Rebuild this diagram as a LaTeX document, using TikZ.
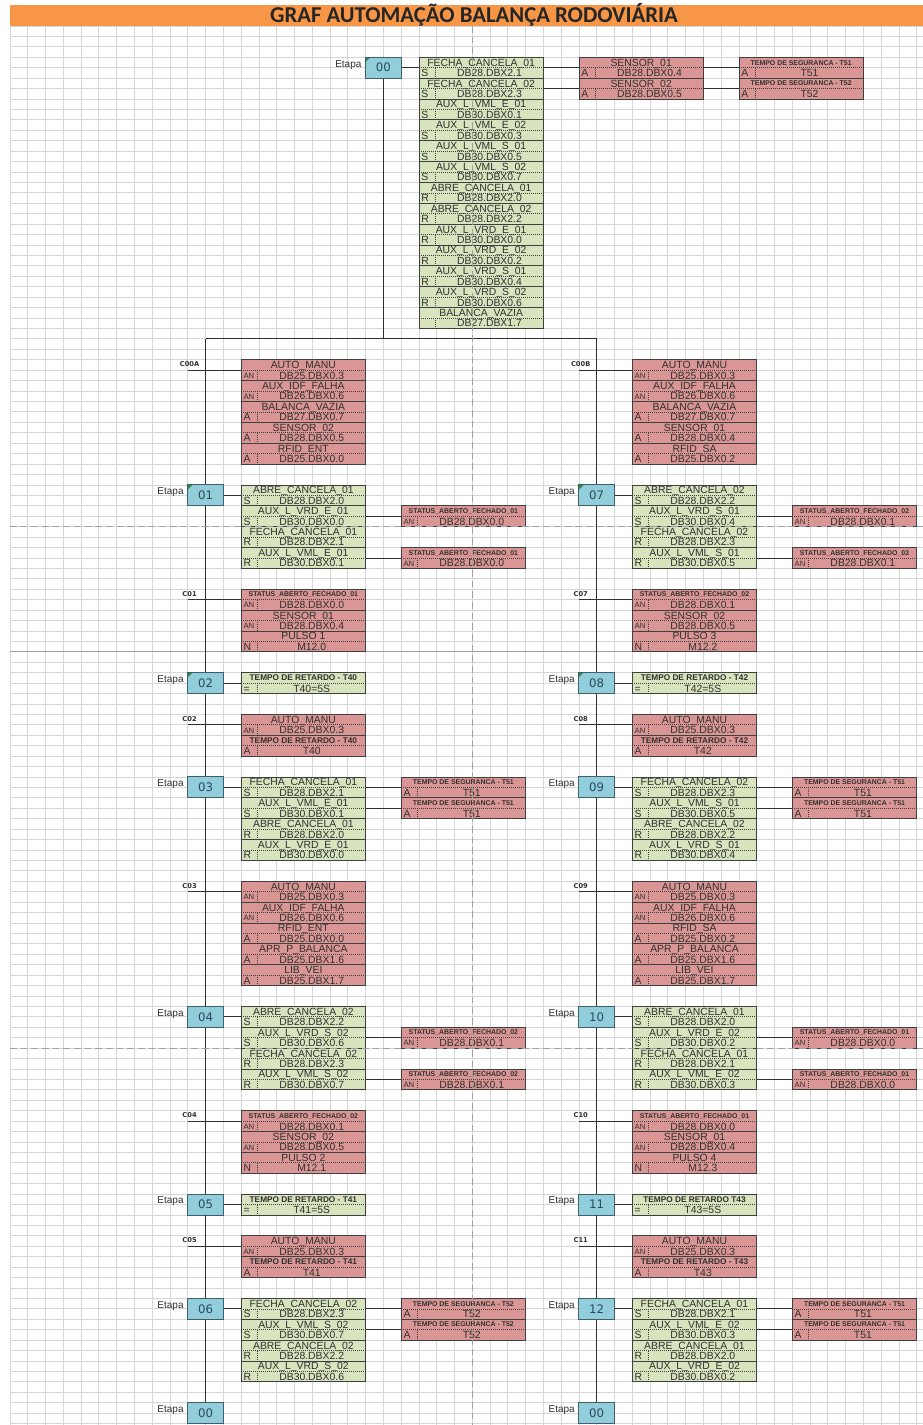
\documentclass[tikz,border=0pt]{standalone}
\usepackage{fontspec}
\setmainfont{Liberation Sans}
\newfontfamily\titlefont{Carlito}
\newfontfamily\stepfont{DejaVu Sans}
\usepackage{tikz}
\usetikzlibrary{calc}
\definecolor{hdr}{HTML}{F79646}
\definecolor{actbg}{HTML}{D7E4BD}
\definecolor{cndbg}{HTML}{DA9694}
\definecolor{stepbg}{HTML}{92CDDC}
\definecolor{stepfg}{HTML}{2B4A5C}
\definecolor{stepln}{HTML}{3F5F6F}
\definecolor{boxln}{HTML}{404040}
\definecolor{gridc}{HTML}{D6D6D6}
\definecolor{ink}{HTML}{303030}
\definecolor{brk}{HTML}{A0A0A0}
\definecolor{mkc}{HTML}{2E8B3E}

% entry: name, col, row, fill, title style, title, qualifier, address
\newcommand{\itm}[8]{%
  \node[itembox,#4] (#1) at ({#2+3.5},{#3+1}) {};
  \node[#5] at ({#2+3.5},{#3+0.5}) {#6};
  \draw[dotsep] (#1.west) -- (#1.east);
  \draw[dotsep] ({#2+0.93},{#3+1}) -- ({#2+0.93},{#3+2});
  \node[qual] at ({#2+0.12},{#3+1.5}) {#7};
  \node[txt] at ({#2+3.97},{#3+1.5}) {#8};
}
% column of entries: prefix, col, first row, fill, list
\newcommand{\stk}[5]{%
  \foreach \vs/\vt/\vq/\va [count=\k] in {#5}{%
    \itm{#1-\k}{#2}{#3+2*\k-2}{#4}{\vs}{\vt}{\vq}{\va}}%
}
% step: name, col, row, number, extra style
\newcommand{\etapa}[5]{%
  \node[stepbox,#5] (#1) at ({#2+1},{#3+1}) {#4};
  \node[etq] at ({#2-0.22},{#3+0.6}) {Etapa};
}
% transition: coordinate name, col, row, label
\newcommand{\trans}[4]{%
  \coordinate (#1) at (#2,{#3+1});
  \node[trl] at ({#2+0.1},{#3+0.45}) {#4};
}
\newcommand{\AN}{\raisebox{0.5pt}{\fontsize{5.8}{6}\selectfont AN}}

\begin{document}
\begin{tikzpicture}[
  x=13.335pt, y=-7.8225pt,
  itembox/.style={draw=boxln, line width=0.6pt, minimum width=93.345pt,
    minimum height=15.645pt, inner sep=0pt, outer sep=0pt},
  act/.style={fill=actbg},
  cnd/.style={fill=cndbg},
  tn/.style={inner sep=0pt, text=ink, font=\fontsize{7.8}{8}\selectfont,
    text height=5.6pt, text depth=0pt},
  tb/.style={tn, font=\fontsize{6.2}{7}\selectfont\bfseries, text height=4.45pt},
  ts/.style={tn, font=\fontsize{5.2}{6}\selectfont\bfseries, text height=3.75pt},
  qual/.style={tn, anchor=west},
  txt/.style={tn},
  dotsep/.style={draw=boxln, line width=0.5pt, dash pattern=on 0.6pt off 0.9pt},
  stepbox/.style={draw=stepln, fill=stepbg, line width=0.7pt, minimum width=26.67pt,
    minimum height=15.645pt, inner sep=0pt, text=stepfg,
    font=\stepfont\fontsize{8.8}{9}\selectfont},
  marked/.style={path picture={\fill[mkc] (path picture bounding box.north west)
    -- ++(3.5pt,0pt) -- ++(-3.5pt,-3.5pt) -- cycle;}},
  etq/.style={anchor=east, inner sep=0pt, text=ink, font=\fontsize{7.5}{8}\selectfont,
    text height=5.4pt, text depth=0pt},
  trl/.style={inner sep=0pt, text=ink, font=\stepfont\fontsize{5}{6}\selectfont\bfseries},
  wire/.style={draw=ink, line width=0.6pt},
  gridln/.style={draw=gridc, line width=0.6pt},
  brkln/.style={draw=brk, line width=0.6pt, dash pattern=on 5pt off 3pt},
  hdrtext/.style={inner sep=0pt, text=black!85, text height=11pt, text depth=0pt,
    font=\titlefont\bfseries\fontsize{17}{20}\selectfont}
]
\useasboundingbox (-0.5624,-2.493) rectangle (51.35,134.14);
\fill[white] (-0.5624,-2.493) rectangle (51.35,134.14);
\foreach \c in {0,...,51} \draw[gridln] (\c,0) -- (\c,134.14);
\foreach \r in {0,...,134} \draw[gridln] (0,\r) -- (51.35,\r);
\draw[draw=gray!75, line width=0.8pt] (0,60) -- (51.35,60);
\fill[hdr] (0,-2.01) rectangle (51.35,0);
\node[hdrtext] (ttl) at (26.1,-1.0) {GRAF AUTOMAÇÃO BALANÇA RODOVIÁRIA};

\etapa{s00}{20}{3}{00}{marked}
\stk{a00}{23}{3}{act}{tn/FECHA\_CANCELA\_01/S/DB28.DBX2.1,tn/FECHA\_CANCELA\_02/S/DB28.DBX2.3,
  tn/AUX\_L\_VML\_E\_01/S/DB30.DBX0.1,tn/AUX\_L\_VML\_E\_02/S/DB30.DBX0.3,
  tn/AUX\_L\_VML\_S\_01/S/DB30.DBX0.5,tn/AUX\_L\_VML\_S\_02/S/DB30.DBX0.7,
  tn/ABRE\_CANCELA\_01/R/DB28.DBX2.0,tn/ABRE\_CANCELA\_02/R/DB28.DBX2.2,
  tn/AUX\_L\_VRD\_E\_01/R/DB30.DBX0.0,tn/AUX\_L\_VRD\_E\_02/R/DB30.DBX0.2,
  tn/AUX\_L\_VRD\_S\_01/R/DB30.DBX0.4,tn/AUX\_L\_VRD\_S\_02/R/DB30.DBX0.6,
  tn/BALANCA\_VAZIA/{}/DB27.DBX1.7}
\stk{sn}{32}{3}{cnd}{tn/SENSOR\_01/A/DB28.DBX0.4,tn/SENSOR\_02/A/DB28.DBX0.5}
\stk{tp}{41}{3}{cnd}{ts/TEMPO DE SEGURANCA - T51/A/T51,ts/TEMPO DE SEGURANCA - T52/A/T52}

\trans{tA}{10}{32}{C00A}
\stk{k00a}{13}{32}{cnd}{tn/AUTO\_MANU/\AN/DB25.DBX0.3,tn/AUX\_IDF\_FALHA/\AN/DB26.DBX0.6,
  tn/BALANCA\_VAZIA/A/DB27.DBX0.7,tn/SENSOR\_02/A/DB28.DBX0.5,tn/RFID\_ENT/A/DB25.DBX0.0}
\etapa{s01}{10}{44}{01}{marked}
\stk{a01}{13}{44}{act}{tn/ABRE\_CANCELA\_01/S/DB28.DBX2.0,tn/AUX\_L\_VRD\_E\_01/S/DB30.DBX0.0,
  tn/FECHA\_CANCELA\_01/R/DB28.DBX2.1,tn/AUX\_L\_VML\_E\_01/R/DB30.DBX0.1}
\itm{b01-2}{22}{46}{cnd}{ts}{STATUS\_ABERTO\_FECHADO\_01}{\AN}{DB28.DBX0.0}
\itm{b01-4}{22}{50}{cnd}{ts}{STATUS\_ABERTO\_FECHADO\_01}{\AN}{DB28.DBX0.0}
\trans{t01}{10}{54}{C01}
\stk{k01}{13}{54}{cnd}{ts/STATUS\_ABERTO\_FECHADO\_01/\AN/DB28.DBX0.0,
  tn/SENSOR\_01/\AN/DB28.DBX0.4,tn/PULSO 1/N/M12.0}
\etapa{s02}{10}{62}{02}{marked}
\stk{a02}{13}{62}{act}{tb/TEMPO DE RETARDO - T40/=/T40=5S}
\trans{t02}{10}{66}{C02}
\stk{k02}{13}{66}{cnd}{tn/AUTO\_MANU/\AN/DB25.DBX0.3,tb/TEMPO DE RETARDO - T40/A/T40}
\etapa{s03}{10}{72}{03}{}
\stk{a03}{13}{72}{act}{tn/FECHA\_CANCELA\_01/S/DB28.DBX2.1,tn/AUX\_L\_VML\_E\_01/S/DB30.DBX0.1,
  tn/ABRE\_CANCELA\_01/R/DB28.DBX2.0,tn/AUX\_L\_VRD\_E\_01/R/DB30.DBX0.0}
\stk{b03}{22}{72}{cnd}{ts/TEMPO DE SEGURANCA - T51/A/T51,ts/TEMPO DE SEGURANCA - T51/A/T51}
\trans{t03}{10}{82}{C03}
\stk{k03}{13}{82}{cnd}{tn/AUTO\_MANU/\AN/DB25.DBX0.3,tn/AUX\_IDF\_FALHA/\AN/DB26.DBX0.6,
  tn/RFID\_ENT/A/DB25.DBX0.0,tn/APR\_P\_BALANCA/A/DB25.DBX1.6,tn/LIB\_VEI/A/DB25.DBX1.7}
\etapa{s04}{10}{94}{04}{}
\stk{a04}{13}{94}{act}{tn/ABRE\_CANCELA\_02/S/DB28.DBX2.2,tn/AUX\_L\_VRD\_S\_02/S/DB30.DBX0.6,
  tn/FECHA\_CANCELA\_02/R/DB28.DBX2.3,tn/AUX\_L\_VML\_S\_02/R/DB30.DBX0.7}
\itm{b04-2}{22}{96}{cnd}{ts}{STATUS\_ABERTO\_FECHADO\_02}{\AN}{DB28.DBX0.1}
\itm{b04-4}{22}{100}{cnd}{ts}{STATUS\_ABERTO\_FECHADO\_02}{\AN}{DB28.DBX0.1}
\trans{t04}{10}{104}{C04}
\stk{k04}{13}{104}{cnd}{ts/STATUS\_ABERTO\_FECHADO\_02/\AN/DB28.DBX0.1,
  tn/SENSOR\_02/\AN/DB28.DBX0.5,tn/PULSO 2/N/M12.1}
\etapa{s05}{10}{112}{05}{}
\stk{a05}{13}{112}{act}{tb/TEMPO DE RETARDO - T41/=/T41=5S}
\trans{t05}{10}{116}{C05}
\stk{k05}{13}{116}{cnd}{tn/AUTO\_MANU/\AN/DB25.DBX0.3,tb/TEMPO DE RETARDO - T41/A/T41}
\etapa{s06}{10}{122}{06}{}
\stk{a06}{13}{122}{act}{tn/FECHA\_CANCELA\_02/S/DB28.DBX2.3,tn/AUX\_L\_VML\_S\_02/S/DB30.DBX0.7,
  tn/ABRE\_CANCELA\_02/R/DB28.DBX2.2,tn/AUX\_L\_VRD\_S\_02/R/DB30.DBX0.6}
\stk{b06}{22}{122}{cnd}{ts/TEMPO DE SEGURANCA - T52/A/T52,ts/TEMPO DE SEGURANCA - T52/A/T52}
\etapa{e00a}{10}{132}{00}{}

\trans{tB}{32}{32}{C00B}
\stk{k00b}{35}{32}{cnd}{tn/AUTO\_MANU/\AN/DB25.DBX0.3,tn/AUX\_IDF\_FALHA/\AN/DB26.DBX0.6,
  tn/BALANCA\_VAZIA/A/DB27.DBX0.7,tn/SENSOR\_01/A/DB28.DBX0.4,tn/RFID\_SA/A/DB25.DBX0.2}
\etapa{s07}{32}{44}{07}{marked}
\stk{a07}{35}{44}{act}{tn/ABRE\_CANCELA\_02/S/DB28.DBX2.2,tn/AUX\_L\_VRD\_S\_01/S/DB30.DBX0.4,
  tn/FECHA\_CANCELA\_02/R/DB28.DBX2.3,tn/AUX\_L\_VML\_S\_01/R/DB30.DBX0.5}
\itm{b07-2}{44}{46}{cnd}{ts}{STATUS\_ABERTO\_FECHADO\_02}{\AN}{DB28.DBX0.1}
\itm{b07-4}{44}{50}{cnd}{ts}{STATUS\_ABERTO\_FECHADO\_02}{\AN}{DB28.DBX0.1}
\trans{t07}{32}{54}{C07}
\stk{k07}{35}{54}{cnd}{ts/STATUS\_ABERTO\_FECHADO\_02/\AN/DB28.DBX0.1,
  tn/SENSOR\_02/\AN/DB28.DBX0.5,tn/PULSO 3/N/M12.2}
\etapa{s08}{32}{62}{08}{marked}
\stk{a08}{35}{62}{act}{tb/TEMPO DE RETARDO - T42/=/T42=5S}
\trans{t08}{32}{66}{C08}
\stk{k08}{35}{66}{cnd}{tn/AUTO\_MANU/\AN/DB25.DBX0.3,tb/TEMPO DE RETARDO - T42/A/T42}
\etapa{s09}{32}{72}{09}{}
\stk{a09}{35}{72}{act}{tn/FECHA\_CANCELA\_02/S/DB28.DBX2.3,tn/AUX\_L\_VML\_S\_01/S/DB30.DBX0.5,
  tn/ABRE\_CANCELA\_02/R/DB28.DBX2.2,tn/AUX\_L\_VRD\_S\_01/R/DB30.DBX0.4}
\stk{b09}{44}{72}{cnd}{ts/TEMPO DE SEGURANCA - T51/A/T51,ts/TEMPO DE SEGURANCA - T51/A/T51}
\trans{t09}{32}{82}{C09}
\stk{k09}{35}{82}{cnd}{tn/AUTO\_MANU/\AN/DB25.DBX0.3,tn/AUX\_IDF\_FALHA/\AN/DB26.DBX0.6,
  tn/RFID\_SA/A/DB25.DBX0.2,tn/APR\_P\_BALANCA/A/DB25.DBX1.6,tn/LIB\_VEI/A/DB25.DBX1.7}
\etapa{s10}{32}{94}{10}{}
\stk{a10}{35}{94}{act}{tn/ABRE\_CANCELA\_01/S/DB28.DBX2.0,tn/AUX\_L\_VRD\_E\_02/S/DB30.DBX0.2,
  tn/FECHA\_CANCELA\_01/R/DB28.DBX2.1,tn/AUX\_L\_VML\_E\_02/R/DB30.DBX0.3}
\itm{b10-2}{44}{96}{cnd}{ts}{STATUS\_ABERTO\_FECHADO\_01}{\AN}{DB28.DBX0.0}
\itm{b10-4}{44}{100}{cnd}{ts}{STATUS\_ABERTO\_FECHADO\_01}{\AN}{DB28.DBX0.0}
\trans{t10}{32}{104}{C10}
\stk{k10}{35}{104}{cnd}{ts/STATUS\_ABERTO\_FECHADO\_01/\AN/DB28.DBX0.0,
  tn/SENSOR\_01/\AN/DB28.DBX0.4,tn/PULSO 4/N/M12.3}
\etapa{s11}{32}{112}{11}{}
\stk{a11}{35}{112}{act}{tb/TEMPO DE RETARDO T43/=/T43=5S}
\trans{t11}{32}{116}{C11}
\stk{k11}{35}{116}{cnd}{tn/AUTO\_MANU/\AN/DB25.DBX0.3,tb/TEMPO DE RETARDO - T43/A/T43}
\etapa{s12}{32}{122}{12}{}
\stk{a12}{35}{122}{act}{tn/FECHA\_CANCELA\_01/S/DB28.DBX2.1,tn/AUX\_L\_VML\_E\_02/S/DB30.DBX0.3,
  tn/ABRE\_CANCELA\_01/R/DB28.DBX2.0,tn/AUX\_L\_VRD\_E\_02/R/DB30.DBX0.2}
\stk{b12}{44}{122}{cnd}{ts/TEMPO DE SEGURANCA - T51/A/T51,ts/TEMPO DE SEGURANCA - T51/A/T51}
\etapa{e00b}{32}{132}{00}{}

\coordinate (dvL) at (11,30);
\coordinate (dvM) at (21,30);
\coordinate (dvR) at (33,30);
\draw[wire] (s00.south) -- (dvM);
\draw[wire] (dvL) -- (dvR);
\draw[wire] (dvL) -- (s01.north);
\draw[wire] (dvR) -- (s07.north);
\foreach \i in {1,2} {
  \draw[wire] (a00-\i.east) -- (sn-\i.west);
  \draw[wire] (sn-\i.east) -- (tp-\i.west);
}
\foreach \p/\n in {s01/s02,s02/s03,s03/s04,s04/s05,s05/s06,s06/e00a,
  s07/s08,s08/s09,s09/s10,s10/s11,s11/s12,s12/e00b}
  \draw[wire] (\p.south) -- (\n.north);
\foreach \s in {00,01,02,03,04,05,06,07,08,09,10,11,12}
  \draw[wire] (s\s.east) -- (a\s-1.west);
\foreach \t/\k in {tA/k00a,t01/k01,t02/k02,t03/k03,t04/k04,t05/k05,
  tB/k00b,t07/k07,t08/k08,t09/k09,t10/k10,t11/k11}
  \draw[wire] (\t) -- (\k-1.west);
\foreach \s/\i in {01/2,01/4,03/1,03/2,04/2,04/4,06/1,06/2,
  07/2,07/4,09/1,09/2,10/2,10/4,12/1,12/2}
  \draw[wire] (a\s-\i.east) -- (b\s-\i.west);

\draw[brkln] (26,0) -- (26,134.14);
\draw[brkln] (0,48) -- (51.35,48);
\draw[brkln] (0,98) -- (51.35,98);
\end{tikzpicture}
\end{document}
